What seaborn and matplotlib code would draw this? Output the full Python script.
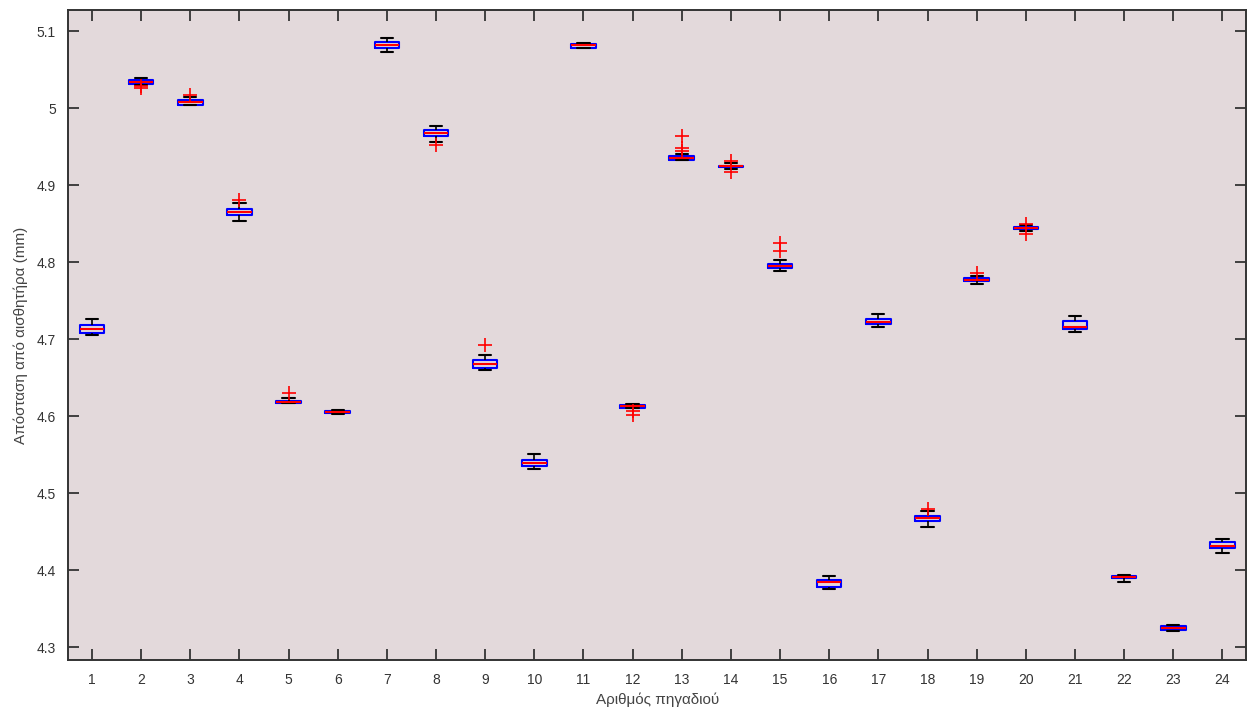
import numpy as np
import pandas as pd
import matplotlib
matplotlib.use("Agg")
import matplotlib.pyplot as plt
import seaborn as sns

# well numbers
wells = [str(i) for i in range(1, 25)]

# box statistics (mm)
whisker_lo = [4.7053, 5.0305, 5.0036, 4.8536, 4.6170, 4.6025, 5.0730, 4.9560,
              4.6597, 4.5315, 5.0775, 4.6100, 4.9320, 4.9205, 4.7890, 4.3752,
              4.7154, 4.4563, 4.7720, 4.8404, 4.7090, 4.3853, 4.3215, 4.4229]
q1 = [4.7085, 5.0317, 5.0046, 4.8616, 4.6174, 4.6035, 5.0783, 4.9633,
      4.6624, 4.5352, 5.0785, 4.6110, 4.9331, 4.9238, 4.7922, 4.3784,
      4.7191, 4.4642, 4.7758, 4.8425, 4.7127, 4.3895, 4.3225, 4.4287]
median = [4.7132, 5.0338, 5.0078, 4.8653, 4.6190, 4.6050, 5.0825, 4.9681,
          4.6677, 4.5395, 5.0815, 4.6126, 4.9358, 4.9245, 4.7954, 4.3842,
          4.7217, 4.4674, 4.7774, 4.8441, 4.7154, 4.3911, 4.3249, 4.4319]
q3 = [4.7180, 5.0359, 5.0105, 4.8690, 4.6203, 4.6065, 5.0862, 4.9713,
      4.6730, 4.5427, 5.0835, 4.6142, 4.9373, 4.9252, 4.7980, 4.3880,
      4.7265, 4.4701, 4.7790, 4.8457, 4.7238, 4.3927, 4.3275, 4.4362]
whisker_hi = [4.7260, 5.0396, 5.0145, 4.8764, 4.6237, 4.6075, 5.0905, 4.9771,
              4.6799, 4.5511, 5.0845, 4.6158, 4.9410, 4.9285, 4.8033, 4.3927,
              4.7328, 4.4764, 4.7820, 4.8478, 4.7302, 4.3938, 4.3285, 4.4404]

# outliers (well, value)
outlier_wells = ["2", "2", "3", "4", "5", "8", "9", "12", "12",
                 "13", "13", "13", "14", "14", "15", "15", "18", "19", "20", "20"]
outlier_vals = [5.0280, 5.0260, 5.0170, 4.8812, 4.6300, 4.9517, 4.6920, 4.6065, 4.6015,
                4.9640, 4.9480, 4.9440, 4.9310, 4.9175, 4.8245, 4.8140, 4.4801, 4.7860, 4.8500, 4.8370]

rows = []
for i, w in enumerate(wells):
    for v in (whisker_lo[i], q1[i], median[i], q3[i], whisker_hi[i]):
        rows.append((w, v))
df = pd.DataFrame(rows, columns=["well", "value"])
out_df = pd.DataFrame({"well": outlier_wells, "value": outlier_vals})

sns.set_theme(style="ticks")
plt.rcParams["font.family"] = ["Liberation Sans", "DejaVu Sans"]

fig = plt.figure(figsize=(12.47, 7.09), dpi=100)
ax = fig.add_axes([0.0548, 0.0691, 0.9444, 0.9168])
ax.set_facecolor("#e3d9db")

sns.boxplot(
    data=df, x="well", y="value", order=wells,
    whis=(0, 100), width=0.5, fill=False, linewidth=1.5,
    boxprops=dict(color="blue"),
    medianprops=dict(color="red"),
    whiskerprops=dict(color="black", linewidth=1.2),
    capprops=dict(color="black", linewidth=1.5),
    showfliers=False, ax=ax,
)

sns.stripplot(
    data=out_df, x="well", y="value", order=wells,
    jitter=False, marker="+", color="red", s=10, linewidth=1.2, ax=ax,
)

ax.set_xlim(-0.48, 23.48)
ax.set_ylim(4.2835, 5.1273)
ax.set_yticks([4.3, 4.4, 4.5, 4.6, 4.7, 4.8, 4.9, 5.0, 5.1])
ax.set_yticklabels(["4.3", "4.4", "4.5", "4.6", "4.7", "4.8", "4.9", "5", "5.1"])

ax.tick_params(direction="in", length=8, width=1.3, colors="#333333",
               top=True, right=True, labelsize=10, pad=9)
for s in ax.spines.values():
    s.set_visible(True)
    s.set_color("#333333")
    s.set_linewidth(1.4)

ax.set_xlabel("Αριθμός πηγαδιού", fontsize=11, color="#444444", labelpad=4)
ax.set_ylabel("Απόσταση από αισθητήρα (mm)", fontsize=11, color="#444444", labelpad=6)

fig.savefig("out.png", dpi=100)
